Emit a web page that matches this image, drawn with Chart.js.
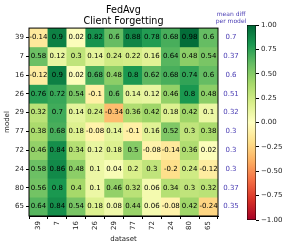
<!DOCTYPE html>
<html>
<head>
<meta charset="utf-8">
<script src="https://cdn.jsdelivr.net/npm/chart.js@4/dist/chart.umd.min.js"></script>
<style>
  html, body { margin: 0; padding: 0; background: #fff; }
  #wrap { position: relative; width: 288px; height: 246px; }
  #heat { position: absolute; left: 0; top: 0; }
  #cbar { position: absolute; left: 240px; top: 0; }
</style>
</head>
<body>
<div id="wrap">
  <canvas id="heat" width="288" height="246"></canvas>
  <canvas id="cbar" width="48" height="246"></canvas>
</div>
<script>
// model rows (top to bottom) and dataset columns (left to right)
const models = ['39', '7', '16', '26', '29', '77', '72', '24', '80', '65'];
const datasetLabels = ['39', '7', '16', '26', '29', '77', '72', '24', '80', '65'];

// forgetting per model row, one value per dataset column
const row39 = [-0.14, 0.9, 0.02, 0.82, 0.6, 0.88, 0.78, 0.68, 0.98, 0.6];
const row7 = [0.58, 0.12, 0.3, 0.14, 0.24, 0.22, 0.16, 0.64, 0.48, 0.54];
const row16 = [-0.12, 0.9, 0.02, 0.68, 0.48, 0.8, 0.62, 0.68, 0.74, 0.6];
const row26 = [0.76, 0.72, 0.54, -0.1, 0.6, 0.14, 0.12, 0.46, 0.8, 0.48];
const row29 = [0.32, 0.7, 0.14, 0.24, -0.34, 0.36, 0.42, 0.18, 0.42, 0.1];
const row77 = [0.38, 0.68, 0.18, -0.08, 0.14, -0.1, 0.16, 0.52, 0.3, 0.38];
const row72 = [0.46, 0.84, 0.34, 0.12, 0.18, 0.5, -0.08, -0.14, 0.36, 0.02];
const row24 = [0.58, 0.86, 0.48, 0.1, 0.04, 0.2, 0.3, -0.2, 0.24, -0.12];
const row80 = [0.56, 0.8, 0.4, 0.1, 0.46, 0.32, 0.06, 0.34, 0.3, 0.32];
const row65 = [0.64, 0.84, 0.54, 0.18, 0.08, 0.44, 0.06, -0.08, 0.42, -0.24];
const rows = [row39, row7, row16, row26, row29, row77, row72, row24, row80, row65];

// mean diff per model, shown to the right of the grid
const meanDiff = [0.7, 0.37, 0.6, 0.51, 0.32, 0.3, 0.3, 0.3, 0.37, 0.35];

// colorbar ticks
const cbarTicks = [1, 0.75, 0.5, 0.25, 0, -0.25, -0.5, -0.75, -1];

// RdYlGn stops
const rdylgn = ['#a50026', '#d73027', '#f46d43', '#fdae61', '#fee08b', '#ffffbf',
                '#d9ef8b', '#a6d96a', '#66bd63', '#1a9850', '#006837'];

function hexToRgb(h) {
  return [parseInt(h.slice(1, 3), 16), parseInt(h.slice(3, 5), 16), parseInt(h.slice(5, 7), 16)];
}

function cellColor(v) {
  const t = Math.max(0, Math.min(1, (v + 1) / 2)) * (rdylgn.length - 1);
  const i = Math.min(Math.floor(t), rdylgn.length - 2);
  const f = t - i;
  const a = hexToRgb(rdylgn[i]);
  const b = hexToRgb(rdylgn[i + 1]);
  const c = a.map((x, k) => Math.round(x + (b[k] - x) * f));
  return `rgb(${c[0]},${c[1]},${c[2]})`;
}

const FONT = 'DejaVu Sans';
const meanColor = '#4a3db4';

// one floating-bar dataset per model row
const heatDatasets = rows.map((vals, r) => ({
  label: models[r],
  data: vals.map(() => [r - 0.5, r + 0.5]),
  backgroundColor: vals.map(cellColor),
  borderWidth: 0,
  barPercentage: 1,
  categoryPercentage: 1,
  grouped: false
}));

const heatText = {
  id: 'heatText',
  afterDatasetsDraw(chart) {
    const { ctx, chartArea, scales } = chart;
    ctx.save();
    ctx.textAlign = 'center';
    ctx.textBaseline = 'middle';
    ctx.font = `7px "${FONT}"`;
    ctx.fillStyle = '#000';
    rows.forEach((vals, r) => {
      const y = scales.y.getPixelForValue(r);
      vals.forEach((v, c) => {
        ctx.fillText(String(v), scales.x.getPixelForValue(c), y);
      });
    });
    // frame
    ctx.strokeStyle = '#000';
    ctx.lineWidth = 1;
    ctx.strokeRect(chartArea.left, chartArea.top, chartArea.width, chartArea.height);
    // mean diff column
    const mx = chartArea.right + 13;
    ctx.fillStyle = meanColor;
    ctx.font = `7px "${FONT}"`;
    meanDiff.forEach((m, r) => {
      ctx.fillText(String(m), mx, scales.y.getPixelForValue(r));
    });
    ctx.font = `6px "${FONT}"`;
    ctx.fillText('mean diff', mx, 14);
    ctx.fillText('per model', mx, 21);
    ctx.restore();
  }
};

new Chart(document.getElementById('heat'), {
  type: 'bar',
  data: { labels: datasetLabels, datasets: heatDatasets },
  options: {
    responsive: false,
    animation: false,
    layout: { padding: { left: 0, right: 70, top: 0, bottom: 0 } },
    plugins: {
      legend: { display: false },
      tooltip: { enabled: false },
      title: {
        display: true,
        fullSize: false,
        text: ['FedAvg', 'Client Forgetting'],
        color: '#000',
        font: { family: FONT, size: 9.6, weight: 'normal', lineHeight: 1.15 },
        padding: { top: 5, bottom: 1 }
      }
    },
    scales: {
      x: {
        type: 'category',
        offset: true,
        grid: { display: true, drawOnChartArea: false, tickLength: 3, color: '#000' },
        border: { display: true, color: '#000' },
        ticks: {
          color: '#222', minRotation: 90, maxRotation: 90, padding: 2,
          font: { family: FONT, size: 7 }
        },
        title: {
          display: true, text: 'dataset', color: '#222',
          font: { family: FONT, size: 7 }, padding: { top: 1, bottom: 3 }
        },
        afterFit(scale) { scale.height = 30; }
      },
      y: {
        type: 'linear',
        reverse: true,
        min: -0.5,
        max: 9.5,
        afterBuildTicks(scale) { scale.ticks = models.map((m, i) => ({ value: i })); },
        grid: { display: true, drawOnChartArea: false, tickLength: 3, color: '#000' },
        border: { display: true, color: '#000' },
        ticks: {
          color: '#222', padding: 2,
          font: { family: FONT, size: 7 },
          callback: (v) => models[v]
        },
        title: {
          display: true, text: 'model', color: '#222',
          font: { family: FONT, size: 7 }, padding: { top: 3, bottom: 1 }
        },
        afterFit(scale) { scale.width = 29; }
      }
    }
  },
  plugins: [heatText]
});

// colorbar as a single floating bar with a gradient fill
new Chart(document.getElementById('cbar'), {
  type: 'bar',
  data: {
    labels: [''],
    datasets: [{
      data: [[-1, 1]],
      backgroundColor(context) {
        const { chart } = context;
        const area = chart.chartArea;
        if (!area) return '#ffffbf';
        const g = chart.ctx.createLinearGradient(0, area.bottom, 0, area.top);
        rdylgn.forEach((c, i) => g.addColorStop(i / (rdylgn.length - 1), c));
        return g;
      },
      borderColor: '#000',
      borderWidth: 0.8,
      borderSkipped: false,
      barPercentage: 1,
      categoryPercentage: 1
    }]
  },
  options: {
    responsive: false,
    animation: false,
    layout: { padding: { left: 7, right: 0, top: 25, bottom: 26 } },
    plugins: { legend: { display: false }, tooltip: { enabled: false } },
    scales: {
      x: { display: false },
      y: {
        position: 'right',
        min: -1,
        max: 1,
        afterBuildTicks(scale) { scale.ticks = cbarTicks.map(v => ({ value: v })); },
        grid: { display: true, drawOnChartArea: false, tickLength: 3, color: '#000' },
        border: { display: false },
        ticks: {
          color: '#222', padding: 2,
          font: { family: FONT, size: 7 },
          callback: (v) => v.toFixed(2).replace('-', '\u2212')
        },
        afterFit(scale) { scale.width = 32; }
      }
    }
  }
});
</script>
</body>
</html>
